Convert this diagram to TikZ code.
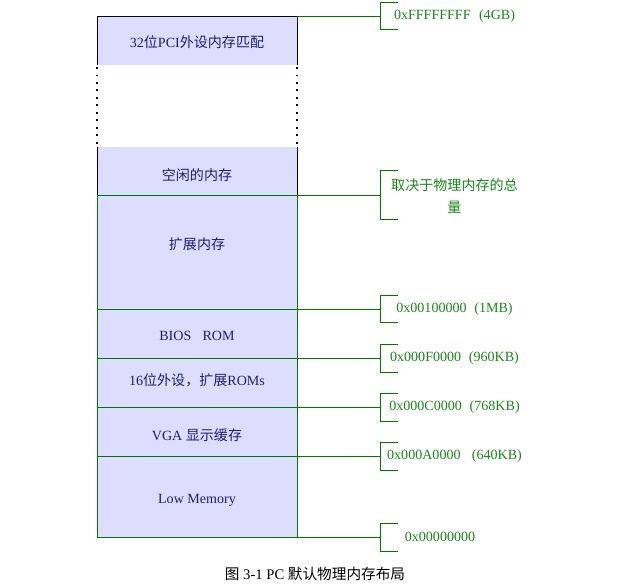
\documentclass[tikz,border=0pt]{standalone}
\usepackage{fontspec}
\setmainfont{Liberation Serif}
\newfontfamily\cjk{Noto Sans CJK SC}
\newcommand\zh[1]{{\cjk #1}}
\newcommand\memfont{\fontsize{12}{14}\selectfont}
\newcommand\addrfont{\fontsize{12}{18.7}\selectfont}
\definecolor{memfill}{RGB}{221,221,255}
\definecolor{memblue}{RGB}{30,30,120}
\definecolor{addrgreen}{RGB}{25,135,25}
\definecolor{addrline}{RGB}{0,120,0}
\tikzset{
    memtext/.style={text=memblue, font=\memfont, inner sep=0pt},
    addrtext/.style={text=addrgreen, font=\addrfont, inner sep=0pt},
    addr/.style={draw=addrline, line width=0.7pt},
}
\begin{document}
\begin{tikzpicture}[x=0.03cm,y=-0.03cm]

    \useasboundingbox (0,0) rectangle (620,586);

    \pgfmathsetmacro{\xl}{97}
    \pgfmathsetmacro{\xr}{297}
    \pgfmathsetmacro{\xk}{380}

    % memory blocks
    \fill[memfill] (\xl,16) rectangle (\xr,65);
    \fill[memfill] (\xl,147) rectangle (\xr,537);

    \draw[line width=0.7pt] (\xl,65) -- (\xl,16) -- (\xr,16) -- (\xr,65);
    \draw[line width=0.7pt] (\xl,195) -- (\xl,147);
    \draw[line width=0.7pt] (\xr,195) -- (\xr,147);
    \draw[line width=1pt, dash pattern=on 1.3pt off 5.1pt] (\xl,67) -- (\xl,145);
    \draw[line width=1pt, dash pattern=on 1.3pt off 5.1pt] (\xr,67) -- (\xr,145);

    \draw[addr] (\xl,195) -- (\xl,537);
    \draw[addr] (\xr,195) -- (\xr,537);

    % boundaries and brackets
    \foreach \i/\y/\h in {0/16/13.5, 1/195/24.5, 2/309/13.5, 3/358/14, 4/407/14, 5/456/14, 6/537/14} {
        \coordinate (e\i) at (\xr,\y);
        \coordinate (k\i) at (\xk,\y);
        \draw[addr] (e\i) -- (k\i);
        \draw[addr] (\xk+18,\y-\h) -- (\xk,\y-\h) -- (\xk,\y+\h) -- (\xk+18,\y+\h);
    }
    \foreach \i in {1,...,6}
        \draw[addr] (\xl,0 |- e\i) -- (e\i);

    \node[memtext] (pci) at (197,42) {32\zh{位}PCI\zh{外设内存匹配}};
    \node[memtext] (free) at (197,175) {\zh{空闲的内存}};
    \node[memtext] (ext) at (197,244) {\zh{扩展内存}};
    \node[memtext] (bios) at (197,336) {BIOS\hspace{0.8em}ROM};
    \node[memtext] (isa) at (197,380) {16\zh{位外设，扩展}ROMs};
    \node[memtext] (vga) at (197,435) {VGA \zh{显示缓存}};
    \node[memtext] (low) at (197,500) {Low Memory};

    \node[addrtext] (a4g) at (454.5,16) {0xFFFFFFFF\hspace{0.6em}(4GB)};
    \node[addrtext, align=center] (atop) at (454.5,196) {\zh{取决于物理内存的总}\\\zh{量}};
    \node[addrtext] (a1m) at (454.5,309) {0x00100000\hspace{0.55em}(1MB)};
    \node[addrtext] (a960) at (454.5,358) {0x000F0000\hspace{0.55em}(960KB)};
    \node[addrtext] (a768) at (454.5,407) {0x000C0000\hspace{0.55em}(768KB)};
    \node[addrtext] (a640) at (454.5,456) {0x000A0000\hspace{0.8em}(640KB)};
    \node[addrtext] (a0) at (440,537) {0x00000000};

    \node[font=\fontsize{12.5}{14}\selectfont, inner sep=0pt] (cap) at (315,574)
        {\zh{图} 3-1 PC \zh{默认物理内存布局}};

\end{tikzpicture}
\end{document}
